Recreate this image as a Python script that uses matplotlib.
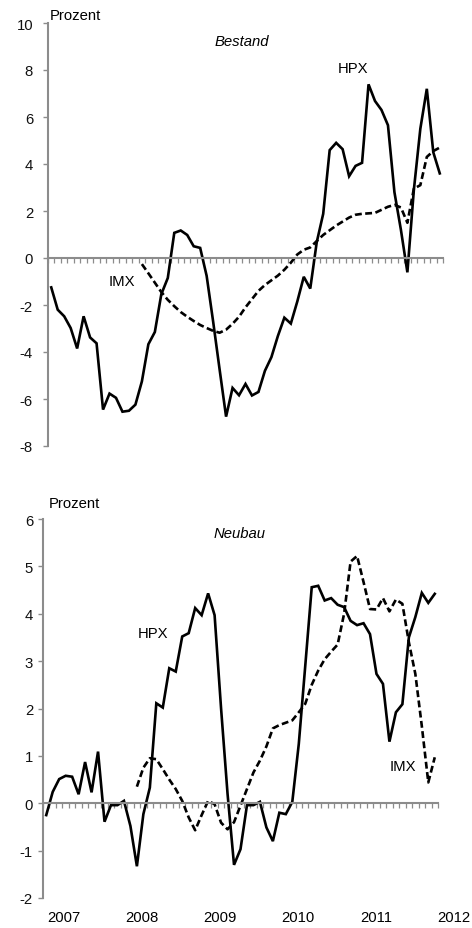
import matplotlib
matplotlib.use("Agg")
import matplotlib.pyplot as plt
import numpy as np

plt.rcParams['font.family'] = ['Liberation Sans', 'DejaVu Sans']

# Monatswerte, Index 0..60 (Ende 2006 bis Ende 2011)
months = np.arange(61)

# Bestand
hpx_bestand = [-1.25, -2.2, -2.48, -2.98, -3.85, -2.48, -3.38, -3.63, -6.45, -5.77,
               -5.95, -6.54, -6.5, -6.24, -5.25, -3.67, -3.15, -1.54, -0.85, 1.07,
               1.17, 0.98, 0.5, 0.43, -0.76, -2.7, -4.74, -6.75, -5.53, -5.84,
               -5.36, -5.85, -5.7, -4.8, -4.22, -3.32, -2.54, -2.79, -1.85, -0.8,
               -1.3, 0.67, 1.88, 4.59, 4.9, 4.63, 3.48, 3.92, 4.05, 7.39,
               6.68, 6.3, 5.65, 2.8, 1.2, -0.61, 2.9, 5.5, 7.2, 4.5, 3.6]
imx_bestand = [np.nan] * 14 + [
               -0.26, -0.65, -1.05, -1.45, -1.78, -2.05, -2.3, -2.5, -2.68, -2.85,
               -2.98, -3.1, -3.18, -3.05, -2.8, -2.5, -2.1, -1.75, -1.4, -1.15,
               -0.95, -0.75, -0.5, -0.2, 0.15, 0.35, 0.45, 0.72, 0.98, 1.18,
               1.38, 1.55, 1.72, 1.84, 1.88, 1.9, 1.92, 2.05, 2.18, 2.26,
               2.15, 1.5, 2.95, 3.1, 4.3, 4.55, 4.7]

# Neubau
hpx_neubau = [-0.25, 0.24, 0.51, 0.58, 0.56, 0.19, 0.87, 0.23, 1.09, -0.39,
              -0.04, -0.04, 0.05, -0.48, -1.33, -0.23, 0.33, 2.11, 2.02, 2.85,
              2.78, 3.52, 3.59, 4.12, 3.97, 4.43, 3.97, 2.0, 0.2, -1.3,
              -0.97, -0.04, -0.04, 0.03, -0.51, -0.8, -0.2, -0.23, 0.03, 1.25,
              2.9, 4.56, 4.59, 4.28, 4.33, 4.19, 4.14, 3.85, 3.76, 3.8,
              3.57, 2.73, 2.52, 1.3, 1.92, 2.09, 3.5, 3.93, 4.44, 4.23, 4.42]
imx_neubau = [np.nan] * 14 + [
              0.35, 0.75, 0.95, 0.93, 0.72, 0.5, 0.3, 0.05, -0.3, -0.57,
              -0.25, 0.05, -0.02, -0.41, -0.55, -0.4, -0.05, 0.3, 0.65, 0.9,
              1.2, 1.58, 1.65, 1.7, 1.75, 1.92, 2.1, 2.5, 2.8, 3.04,
              3.2, 3.35, 4.0, 5.1, 5.22, 4.67, 4.1, 4.09, 4.33, 4.05,
              4.3, 4.21, 3.4, 2.73, 1.63, 0.44, 0.97]

years = ['2007', '2008', '2009', '2010', '2011', '2012']
year_pos = 2.75 + 12.05 * np.arange(len(years))

W, H = 472, 929
fig = plt.figure(figsize=(W / 100, H / 100), dpi=100)

gray = '#8c8c8c'


def panel(rect, hpx, imx, ylim, ystep, ypad):
    ax = fig.add_axes(rect)
    ax.plot(months, hpx, color='black', lw=1.9, solid_joinstyle='miter')
    ax.plot(months, imx, color='black', lw=1.9, linestyle=(0, (2.6, 1.3)))
    ax.set_xlim(-0.5, 60.5)
    ax.set_ylim(*ylim)
    ax.set_yticks(np.arange(ylim[0], ylim[1] + 0.01, ystep))
    ax.set_yticklabels([str(int(v)) for v in np.arange(ylim[0], ylim[1] + 0.01, ystep)])
    for s in ['top', 'right']:
        ax.spines[s].set_visible(False)
    ax.spines['left'].set_color(gray)
    ax.spines['left'].set_linewidth(1.5)
    ax.spines['bottom'].set_color(gray)
    ax.spines['bottom'].set_linewidth(1.5)
    ax.spines['bottom'].set_position(('data', 0))
    ax.set_xticks(np.arange(-0.5, 61, 1))
    ax.set_xticklabels([])
    ax.tick_params(axis='x', direction='out', length=3.5, width=0.9, color=gray)
    ax.tick_params(axis='y', direction='out', length=3.5, width=1.0, color=gray,
                   labelsize=10.7, pad=ypad, labelcolor='#111111')
    ax.patch.set_alpha(0)
    return ax


top = panel([48 / W, 1 - 447 / H, 395 / W, 423 / H], hpx_bestand, imx_bestand,
            (-8, 10), 2, 7.3)
bot = panel([43 / W, 1 - 899 / H, 395 / W, 379 / H], hpx_neubau, imx_neubau,
            (-2, 6), 1, 3.7)

fs = 10.7
fig.text(50 / W, 1 - 16 / H, 'Prozent', fontsize=fs, va='center', ha='left')
fig.text(49 / W, 1 - 504 / H, 'Prozent', fontsize=fs, va='center', ha='left')

top.text(29.5, 9.23, 'Bestand', style='italic', fontsize=fs, ha='center', va='center')
top.text(46.6, 8.1, 'HPX', fontsize=fs, ha='center', va='center')
top.text(10.9, -0.98, 'IMX', fontsize=fs, ha='center', va='center')

bot.text(29.9, 5.71, 'Neubau', style='italic', fontsize=fs, ha='center', va='center')
bot.text(16.5, 3.59, 'HPX', fontsize=fs, ha='center', va='center')
bot.text(55.1, 0.78, 'IMX', fontsize=fs, ha='center', va='center')

for p, lab in zip(year_pos, years):
    bot.text(p, -0.05, lab, transform=bot.get_xaxis_transform(), fontsize=fs,
             ha='center', va='center', clip_on=False)

fig.savefig('out.png', dpi=100)
